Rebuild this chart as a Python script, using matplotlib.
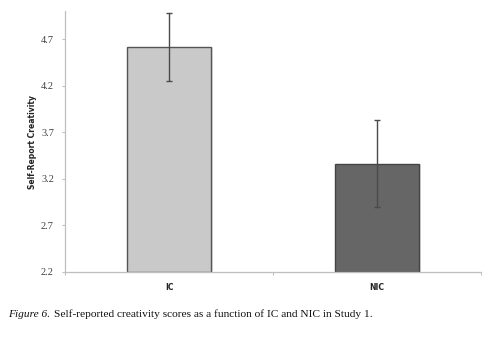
import matplotlib.pyplot as plt

groups = ["IC", "NIC"]
means = [4.614, 3.363]
errors = [0.367, 0.466]
bar_colors = ["#c9c9c9", "#666666"]
y_ticks = [2.2, 2.7, 3.2, 3.7, 4.2, 4.7]

fig = plt.figure(figsize=(5, 3.37), dpi=100)
ax = fig.add_axes([0.13, 0.194, 0.832, 0.772])

x = range(len(groups))
# soft shadow on the right of each bar
ax.bar([i + 0.012 for i in x], [m - 2.2 for m in means], bottom=2.2, width=0.4,
       color="#e4e4e4", edgecolor="none", zorder=1)
ax.bar(x, [m - 2.2 for m in means], bottom=2.2, width=0.4, color=bar_colors,
       edgecolor=["#555555", "#444444"], linewidth=1.0, zorder=2)
ax.errorbar(x, means, yerr=errors, fmt="none", ecolor="#4a4a4a",
            elinewidth=1.0, capsize=2, capthick=1.0, zorder=3)

ax.set_xlim(-0.5, 1.5)
ax.set_ylim(2.2, 5.0)
ax.set_yticks(y_ticks)
ax.set_yticklabels([f"{t:.1f}" for t in y_ticks], family="Liberation Serif",
                   fontsize=7.5, color="#404040")
ax.set_xticks([0, 1])
ax.set_xticklabels(groups, fontsize=5.5, fontweight="bold", family="DejaVu Sans",
                   color="#222222")
ax.tick_params(axis="x", length=0, pad=8)
ax.tick_params(axis="y", length=2, color="#bfbfbf", width=0.8, pad=6)
ax.set_xticks([-0.5, 0.5, 1.5], minor=True)
ax.tick_params(axis="x", which="minor", length=2, color="#bfbfbf", width=0.8)

for side in ["top", "right"]:
    ax.spines[side].set_visible(False)
for side in ["left", "bottom"]:
    ax.spines[side].set_color("#bfbfbf")
    ax.spines[side].set_linewidth(0.9)

ax.set_ylabel("Self-Report Creativity", fontsize=5.5, fontweight="bold",
              family="DejaVu Sans", color="#222222", labelpad=3)

t1 = fig.text(0.017, 0.06, "Figure 6.", family="Liberation Serif",
              style="italic", fontsize=8.2, color="#111111")
ax.annotate("Self-reported creativity scores as a function of IC and NIC in Study 1.",
            xy=(1, 0), xycoords=t1, xytext=(2.5, 0), textcoords="offset points",
            va="bottom", family="Liberation Serif", fontsize=8.2, color="#111111",
            annotation_clip=False)

fig.savefig("out.png", dpi=100)
